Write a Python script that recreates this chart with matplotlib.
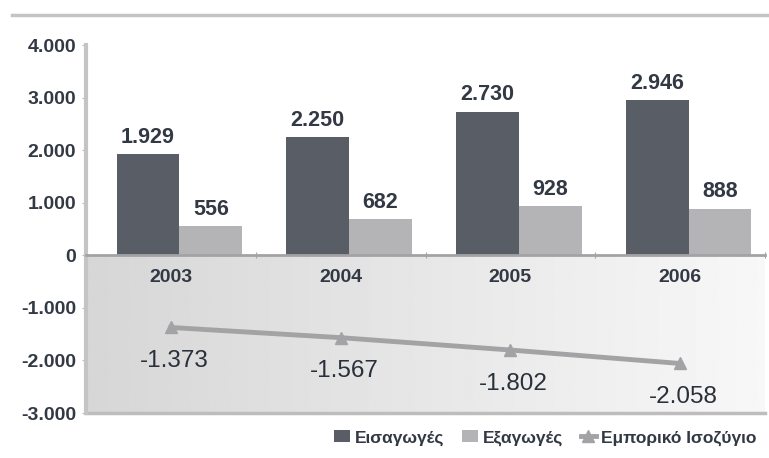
import matplotlib.pyplot as plt
import numpy as np

years = ["2003", "2004", "2005", "2006"]
imports = [1929, 2250, 2730, 2946]
exports = [556, 682, 928, 888]
balance = [-1373, -1567, -1802, -2058]

legend_labels = ["Εισαγωγές", "Εξαγωγές", "Εμπορικό Ισοζύγιο"]


def gr(v):
    # greek style thousands separator
    s = f"{abs(v):,}".replace(",", ".")
    return ("-" if v < 0 else "") + s


plt.rcParams['font.family'] = ['Liberation Sans', 'DejaVu Sans']

dark = "#585d66"
light = "#b4b4b6"
line_c = "#a3a3a6"
txt = "#333944"

fig = plt.figure(figsize=(7.69, 4.58), dpi=100)
ax = fig.add_axes([86/769, 45/458, 679/769, 368/458])

x = np.arange(len(years))
width = 0.37

# shaded band under the zero line
grad = np.linspace(0.84, 0.97, 256).reshape(1, -1)
ax.imshow(grad, extent=[-0.5, 3.5, -3000, 0], aspect='auto', cmap='gray',
          vmin=0, vmax=1, zorder=0)

b1 = ax.bar(x - width/2 + 0.05, imports, width, color=dark, label=legend_labels[0], zorder=2)
b2 = ax.bar(x + width/2 + 0.05, exports, width, color=light, label=legend_labels[1], zorder=2)
ax.plot(x, balance, color=line_c, lw=3.5, marker='^', ms=9, label=legend_labels[2], zorder=3)

for b in list(b1) + list(b2):
    h = b.get_height()
    ax.text(b.get_x() + b.get_width()/2, h + 120, gr(h), ha='center', va='bottom',
            fontsize=15.5, fontweight='bold', color=txt)

for xi, v in zip(x, balance):
    ax.text(xi + 0.02, v - 430, gr(v), ha='center', va='top',
            fontsize=17.5, color="#2a303a")

# year labels just under the zero line
for xi, yr in zip(x, years):
    ax.text(xi, -260, yr, ha='center', va='top', fontsize=14,
            fontweight='bold', color=txt)

ax.set_xlim(-0.5, 3.5)
ax.set_ylim(-3000, 4000)
ax.set_yticks(np.arange(-3000, 4001, 1000))
ax.set_yticklabels([gr(v) for v in range(-3000, 4001, 1000)], fontsize=14,
                   fontweight='bold', color=txt)

ax.set_xticks(np.arange(-0.5, 3.6, 1.0))
ax.set_xticklabels([])
ax.tick_params(axis='x', length=4, color=line_c, direction='inout')
ax.tick_params(axis='y', length=3, color="#bbbbbb", pad=4)

for s in ['top', 'right']:
    ax.spines[s].set_visible(False)
ax.spines['bottom'].set_position(('data', 0))
ax.spines['bottom'].set_color(line_c)
ax.spines['bottom'].set_linewidth(2)
ax.spines['left'].set_color("#c4c4c4")
ax.spines['left'].set_linewidth(3)
ax.axhline(-3000, color="#bdbdbd", lw=2.5, zorder=1, clip_on=False)

# frame line along the top
fig.add_artist(plt.Line2D([12/769, 1.0], [1 - 15/458, 1 - 15/458],
                          color="#c4c4c4", lw=2.5))

leg = fig.legend(handles=[b1, b2, ax.lines[0]], labels=legend_labels,
                 loc='lower right', bbox_to_anchor=(1.0, 0.0), ncol=3, frameon=False,
                 fontsize=12.5, handlelength=0.9, handletextpad=0.3, columnspacing=1.0,
                 borderaxespad=0.3)
for t in leg.get_texts():
    t.set_color(txt)
    t.set_fontweight('bold')

fig.savefig("out.png", dpi=100)
